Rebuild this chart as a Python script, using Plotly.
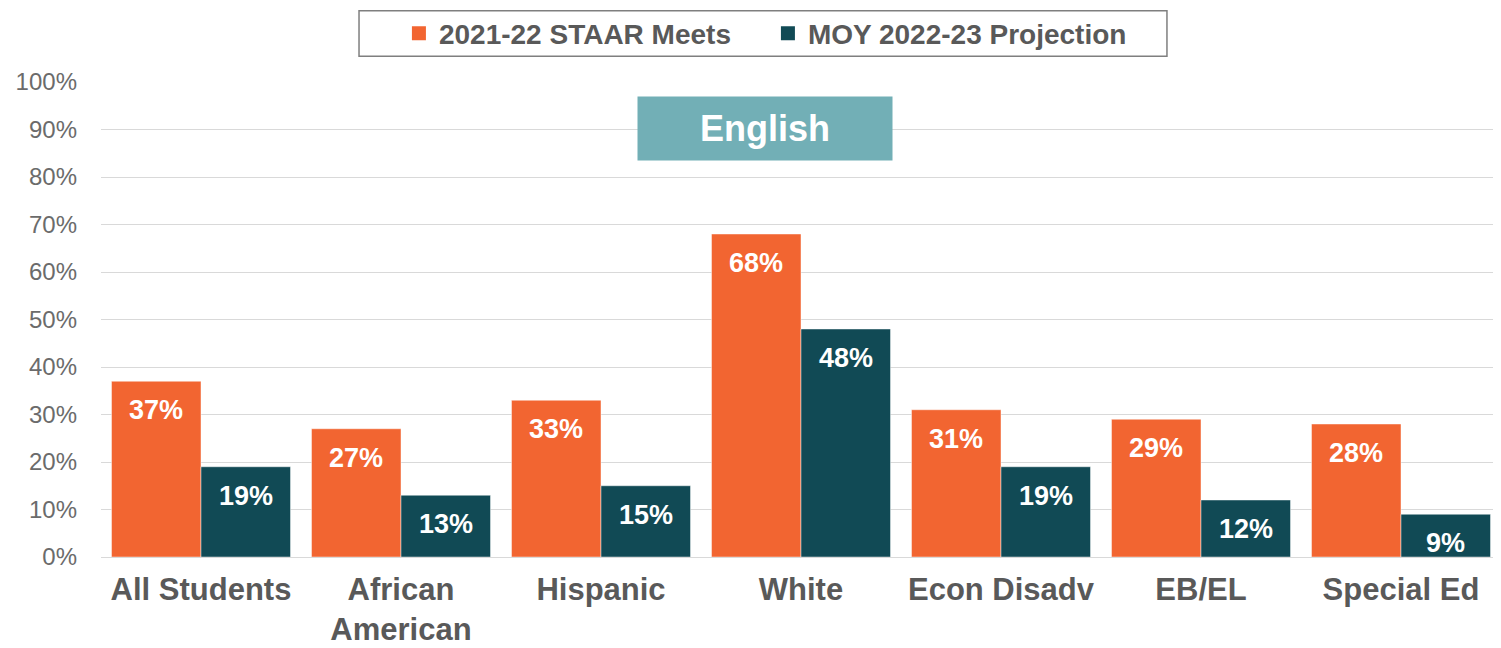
import plotly.graph_objects as go

# ── data ──
categories = ["All Students", "African<br>American", "Hispanic", "White",
              "Econ Disadv", "EB/EL", "Special Ed"]
staar_meets = [37, 27, 33, 68, 31, 29, 28]
moy_projection = [19, 13, 15, 48, 19, 12, 9]
series_names = ["2021-22 STAAR Meets", "MOY 2022-23 Projection"]
y_ticks = [0, 10, 20, 30, 40, 50, 60, 70, 80, 90, 100]

ORANGE = "#F26531"
TEAL = "#114A55"
BOX = "#72AFB6"
GREY = "#595959"
FONT = "Liberation Sans, Arial, sans-serif"

BARGAP = 0.105
# half a bar, in pixels (category = 200px wide)
HALF = 200 * (1 - BARGAP) / 4

fig = go.Figure()

series = [(series_names[0], staar_meets, ORANGE, -HALF),
          (series_names[1], moy_projection, TEAL, HALF)]

for name, vals, color, shift in series:
    fig.add_trace(go.Bar(
        x=categories, y=vals, name=name, showlegend=False,
        marker=dict(color=color, line=dict(color="rgba(255,255,255,0.45)", width=1)),
    ))
    # legend entry with a bigger square swatch
    fig.add_trace(go.Scatter(
        x=[None], y=[None], mode="markers", name=f"<b>{name}</b>",
        marker=dict(symbol="square", size=14, color=color),
    ))
    # value labels inside the top of each bar
    for c, v in zip(categories, vals):
        fig.add_annotation(
            x=c, y=v, xref="x", yref="y", text=f"<b>{v}%</b>",
            showarrow=False, xshift=shift, yshift=-29,
            yanchor="middle", xanchor="center",
            font=dict(family=FONT, size=27, color="white"),
        )

# "English" subject box
fig.add_annotation(
    x=0.4746, y=90.3, xref="paper", yref="y",
    text="<b>English</b>", showarrow=False,
    font=dict(family=FONT, size=36, color="white"),
    bgcolor=BOX, width=252, height=61, xanchor="center", yanchor="middle",
)

# legend frame
fig.add_shape(type="rect", xref="paper", yref="paper",
              x0=0.1843, x1=0.7614, y0=1.0542, y1=1.15,
              line=dict(color="#7f7f7f", width=1.5), fillcolor="rgba(0,0,0,0)")

# page body has an 8px margin, so the figure is 8px smaller than the window
fig.update_layout(
    width=1493, height=640,
    margin=dict(l=93, r=0, t=69, b=91),
    paper_bgcolor="white", plot_bgcolor="white",
    barmode="group", bargap=BARGAP, bargroupgap=0,
    font=dict(family=FONT, color=GREY),
    showlegend=True,
    legend=dict(
        orientation="h", x=0.2128, y=1.102, xanchor="left", yanchor="middle",
        borderwidth=0, bgcolor="rgba(0,0,0,0)",
        font=dict(family=FONT, size=28, color=GREY),
        itemsizing="trace", itemwidth=30, entrywidth=324,
        traceorder="normal",
    ),
)

fig.update_xaxes(
    tickvals=categories, ticktext=[f"<b>{c}</b>" for c in categories],
    tickfont=dict(family=FONT, size=31, color=GREY),
    ticklabelstandoff=11, showline=False, showgrid=False, automargin=False,
)
fig.update_yaxes(
    range=[0, 100], tickvals=y_ticks, ticktext=[f"{t}%" for t in y_ticks],
    tickfont=dict(family=FONT, size=24, color="#6b6b6b"),
    showgrid=True, gridcolor="#d9d9d9", gridwidth=1,
    zeroline=True, zerolinecolor="#d9d9d9", zerolinewidth=1,
    ticklabelstandoff=23, automargin=False,
)

fig.write_html("out.html")
